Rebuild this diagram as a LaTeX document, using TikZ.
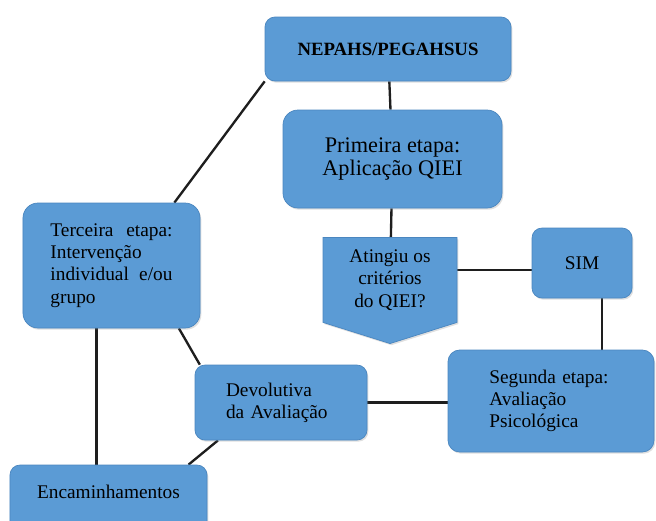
\documentclass[tikz,border=0pt]{standalone}
\usepackage{fontspec}
\setmainfont{Liberation Serif}
\usetikzlibrary{shapes.symbols, shadows, backgrounds}
\definecolor{azul}{HTML}{5B9BD5}
\definecolor{azulborda}{HTML}{4A86BF}
\definecolor{linha}{HTML}{1E1E1E}
\tikzset{
  etapa/.style={draw=azulborda, fill=azul, line width=0.6pt, rounded corners=0.35cm,
    drop shadow={shadow xshift=0.04cm, shadow yshift=-0.05cm, opacity=0.25},
    font=\fontsize{16.5}{19}\selectfont, inner sep=2pt},
  pergunta/.style={shape=signal, signal to=south, signal from=nowhere, signal pointer angle=145,
    draw=azulborda, fill=azul, line width=0.6pt,
    drop shadow={shadow xshift=0.04cm, shadow yshift=-0.05cm, opacity=0.25},
    font=\fontsize{16.5}{19}\selectfont, align=center, inner sep=2pt},
  ramo/.style={draw=linha, line width=2pt}
}

\begin{document}
\begin{tikzpicture}[x=0.03cm, y=-0.03cm]
\useasboundingbox (0,0) rectangle (656,520);
\clip (0,0) rectangle (656,520);
%nepahs - topo
\node[etapa, rounded corners=0.3cm, minimum width=7.38cm, minimum height=1.92cm,
  font=\fontsize{16}{19}\selectfont\bfseries] (nepahs) at (388,49) {NEPAHS/PEGAHSUS};
%primeira etapa
\node[etapa, rounded corners=0.45cm, minimum width=6.57cm, minimum height=2.94cm, align=center,
  font=\fontsize{19}{19.6}\selectfont] (primeira) at (392.5,159) {Primeira etapa:\\Aplicação QIEI};
%pergunta, seta para baixo
\node[pergunta, minimum width=4.02cm, minimum height=2.95cm] (atingiu) at (390,280)
  {Atingiu os\\critérios\\do QIEI?};
%sim
\node[etapa, rounded corners=0.3cm, minimum width=3cm, minimum height=2.1cm] (sim) at (582,263) {SIM};
%segunda etapa
\node[etapa, minimum width=6.18cm, minimum height=3.06cm, text width=3.7cm, align=left]
  (segunda) at (551,401) {Segunda etapa:\\Avaliação\\Psicológica};
%terceira etapa, ramo esquerdo
\node[etapa, rounded corners=0.45cm, minimum width=5.31cm, minimum height=3.75cm, text width=3.66cm,
  align=left] (terceira) at (111.5,265.5) {Terceira\hfill etapa:\\Intervenção\\individual\hfill e/ou\\grupo};
%devolutiva
\node[etapa, rounded corners=0.3cm, minimum width=5.16cm, minimum height=2.25cm, text width=3.3cm,
  align=left] (devolutiva) at (281,402.5) {Devolutiva\\da Avaliação};
%encaminhamentos, folha
\node[etapa, rounded corners=0.3cm, minimum width=5.91cm, minimum height=2.1cm, text depth=0.5cm]
  (encaminhamentos) at (108.5,500) {Encaminhamentos};
% ligacoes
\begin{pgfonlayer}{background}
\draw[ramo] (nepahs) -- (primeira);
\draw[ramo] (primeira) -- (atingiu);
\draw[ramo] ([yshift=-0.2cm]sim.west) -- ([yshift=-0.2cm]sim.west -| atingiu.center);
\draw[ramo] ([xshift=0.6cm]sim.center) -- ([xshift=0.6cm]sim.center |- segunda.center);
\draw[ramo] (nepahs.south west) -- (terceira.45);
\draw[ramo] (terceira.-43) -- (devolutiva.155);
\draw[ramo] ([xshift=-0.45cm]terceira.south) -- ([xshift=-0.45cm]terceira.south |- encaminhamentos.north);
\draw[ramo] (devolutiva.211) -- ([xshift=2.4cm]encaminhamentos.north);
\draw[ramo] (devolutiva) -- (devolutiva -| segunda);
\end{pgfonlayer}
\end{tikzpicture}
\end{document}
